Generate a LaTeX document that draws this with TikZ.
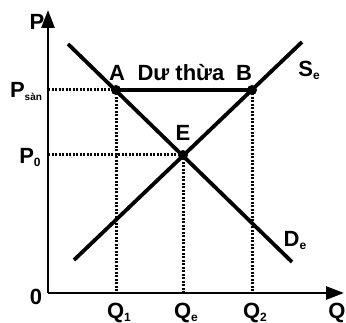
\documentclass[tikz,border=0pt]{standalone}
\usepackage{fontspec}
\setmainfont{Liberation Sans}
\usetikzlibrary{arrows.meta}
\newcommand{\lowsub}[1]{\raisebox{-3pt}{\fontsize{12}{12}\selectfont #1}}
\begin{document}
\begin{tikzpicture}[x=1pt,y=-1pt,
  lbl/.style={font=\bfseries\fontsize{22}{22}\selectfont, inner sep=0pt},
  curve/.style={line width=3.8pt},
  axis/.style={line width=2.8pt, -{Triangle[length=18pt,width=13pt]}},
  guide/.style={line width=3pt, dash pattern=on 2pt off 1.5pt},
  dotpt/.style={circle, fill=black, inner sep=0pt, minimum size=10pt}]
\useasboundingbox (0,0) rectangle (346,323);
\coordinate (O) at (48,293);
\coordinate (ytop) at (48,10);
\coordinate (xend) at (344,293);
% curves
\coordinate (d1) at (68,44);
\coordinate (d2) at (292,262);
\coordinate (s1) at (74,260);
\coordinate (s2) at (302,42);
\node[dotpt] (A) at (116,90) {};
\node[dotpt] (B) at (252,90) {};
\node[dotpt] (E) at (183,155) {};
\coordinate (Py) at (48,90);
\coordinate (P0y) at (48,155);
\coordinate (Q1x) at (116,293);
\coordinate (Qex) at (183,293);
\coordinate (Q2x) at (252,293);
\draw[guide] (Py) -- (A.center);
\draw[guide] (P0y) -- (E.center);
\draw[guide] (A.center) -- (Q1x);
\draw[guide] (E.center) -- (Qex);
\draw[guide] (B.center) -- (Q2x);
\draw[curve] (d1) -- (d2);
\draw[curve] (s1) -- (s2);
\draw[curve] (A.center) -- (B.center);
\draw[axis] (O) -- (ytop);
\draw[axis] (O) -- (xend);
% labels
\node[lbl] (lP) at (37,22) {P};
\node[lbl] (lPs) at (26,91) {P\raisebox{-3pt}{\fontsize{10}{10}\selectfont sàn}};
\node[lbl] (lP0) at (30,157) {P\lowsub{0}};
\node[lbl] (l0) at (36,297) {0};
\node[lbl] (lA) at (117,73) {A};
\node[lbl] (lDu) at (181,73) {Dư thừa};
\node[lbl] (lB) at (244,73) {B};
\node[lbl] (lE) at (183,133) {E};
\node[lbl] (lS) at (309,70) {S\lowsub{e}};
\node[lbl] (lD) at (295,240) {D\lowsub{e}};
\node[lbl] (lQ1) at (119,313) {Q\lowsub{1}};
\node[lbl] (lQe) at (186,313) {Q\lowsub{e}};
\node[lbl] (lQ2) at (255,313) {Q\lowsub{2}};
\node[lbl] (lQ) at (337,313) {Q};
\end{tikzpicture}
\end{document}
